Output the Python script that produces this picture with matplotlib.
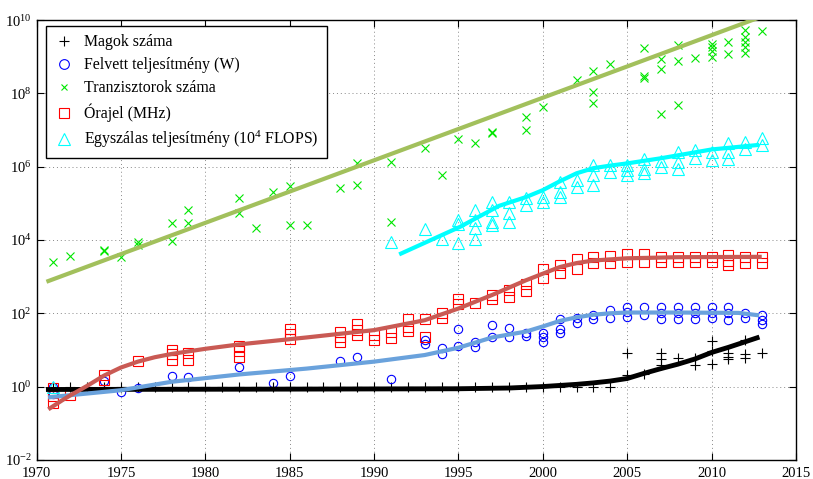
# Trends bei Mikroprozessoren 1971-2013 (log-Skala)
import numpy as np
import matplotlib.pyplot as plt
from matplotlib.lines import Line2D

plt.rcParams['font.family'] = ['Liberation Serif', 'DejaVu Serif']
plt.rcParams['mathtext.fontset'] = 'custom'
plt.rcParams['mathtext.rm'] = 'Liberation Serif'
plt.rcParams['mathtext.it'] = 'Liberation Serif:italic'

# --- Daten (Exponenten log10) ---
cores_year = [1971, 1972, 1973, 1974, 1975, 1976, 1977, 1978, 1979, 1980,
              1981, 1982, 1983, 1984, 1985, 1986, 1987, 1988, 1989, 1990,
              1991, 1992, 1993, 1994, 1995, 1996, 1997, 1998, 1999, 2000,
              2001, 2002, 2003, 2004,
              2005, 2005, 2006, 2007, 2007, 2007, 2008, 2009, 2009,
              2010, 2010, 2010, 2011, 2011, 2011, 2012, 2012, 2012, 2013]
cores_log = [0, 0, 0, 0, 0, 0, 0, 0, 0, 0,
             0, 0, 0, 0, 0, 0, 0, 0, 0, 0,
             0, 0, 0, 0, 0, 0, 0, 0, 0, 0,
             0, 0, 0, 0,
             0.91, 0.32, 0.34, 0.91, 0.74, 0.60, 0.77, 0.77, 0.60,
             1.23, 0.97, 0.61, 0.91, 0.82, 0.74, 1.28, 0.89, 0.79, 0.91]

power_year = [1971, 1971, 1974, 1975, 1976, 1978, 1979, 1982, 1984, 1985,
              1988, 1989, 1991, 1993, 1993, 1994, 1994, 1995, 1995, 1996, 1996,
              1997, 1997, 1998, 1998, 1999, 1999, 2000, 2000, 2000,
              2001, 2001, 2001, 2002, 2002, 2003, 2003, 2004, 2004,
              2005, 2005, 2005, 2006, 2006, 2007, 2007, 2007,
              2008, 2008, 2008, 2009, 2009, 2009, 2010, 2010, 2010,
              2011, 2011, 2011, 2012, 2012, 2013, 2013, 2013]
power_log = [0.0, -0.21, 0.16, -0.14, -0.05, 0.29, 0.25, 0.53, 0.10, 0.29,
             0.69, 0.81, 0.20, 1.27, 1.16, 1.04, 0.88, 1.58, 1.12, 1.22, 1.07,
             1.67, 1.34, 1.61, 1.36, 1.46, 1.37, 1.45, 1.34, 1.22,
             1.83, 1.58, 1.45, 1.86, 1.74, 1.95, 1.83, 2.09, 1.86,
             2.18, 2.04, 1.90, 2.16, 1.95, 2.16, 2.00, 1.83,
             2.16, 2.00, 1.83, 2.16, 2.00, 1.83, 2.16, 2.00, 1.86,
             2.16, 2.00, 1.81, 2.02, 1.86, 1.95, 1.81, 1.72]

trans_year = [1971, 1972, 1974, 1974, 1975, 1976, 1976, 1978, 1978, 1979, 1979,
              1982, 1982, 1983, 1984, 1985, 1985, 1986, 1988, 1989, 1989,
              1991, 1991, 1993, 1994, 1995, 1996, 1997, 1997, 1999, 1999,
              2000, 2002, 2003, 2003, 2003, 2004, 2006, 2006, 2006,
              2007, 2007, 2007, 2008, 2008, 2008, 2009,
              2010, 2010, 2010, 2010, 2011, 2011,
              2012, 2012, 2012, 2012, 2012, 2013]
trans_log = [3.40, 3.56, 3.70, 3.74, 3.54, 3.95, 3.86, 4.47, 3.98, 4.83, 4.47,
             5.14, 4.74, 4.34, 5.31, 5.47, 4.41, 4.41, 5.41, 5.50, 6.09,
             6.13, 4.50, 6.50, 5.77, 6.75, 6.64, 6.95, 6.92, 7.36, 7.00,
             7.63, 8.36, 8.62, 8.04, 7.74, 8.79, 9.24, 8.47, 8.41,
             8.93, 8.66, 7.43, 9.32, 8.88, 7.68, 8.97,
             9.36, 9.26, 9.16, 9.00, 9.41, 9.07,
             9.73, 9.54, 9.41, 9.26, 9.09, 9.70]

clock_year = [1971, 1971, 1971, 1972, 1974, 1974, 1976, 1978, 1978, 1978,
              1979, 1979, 1982, 1982, 1982, 1985, 1985, 1985,
              1988, 1988, 1988, 1989, 1989, 1989, 1990, 1990, 1991, 1991,
              1992, 1992, 1992, 1993, 1993, 1994, 1994, 1995, 1995, 1996,
              1997, 1997, 1998, 1998, 1999, 1999, 2000, 2000, 2001, 2001,
              2002, 2002, 2003, 2003, 2004, 2004, 2005, 2005, 2006, 2006,
              2007, 2007, 2008, 2008, 2009, 2009, 2010, 2010,
              2011, 2011, 2011, 2012, 2012, 2013, 2013]
clock_log = [-0.05, -0.25, -0.45, -0.23, 0.31, 0.18, 0.70, 1.01, 0.89, 0.72,
             0.92, 0.72, 1.11, 0.97, 0.80, 1.56, 1.43, 1.29,
             1.50, 1.36, 1.22, 1.72, 1.54, 1.41, 1.41, 1.27, 1.50, 1.32,
             1.83, 1.63, 1.52, 1.83, 1.36, 2.00, 1.86, 2.38, 2.25, 2.29,
             2.50, 2.38, 2.63, 2.45, 2.80, 2.62, 3.22, 2.95, 3.32, 3.09,
             3.47, 3.22, 3.54, 3.36, 3.56, 3.38, 3.61, 3.41, 3.61, 3.41,
             3.54, 3.41, 3.53, 3.41, 3.53, 3.41, 3.54, 3.39,
             3.59, 3.43, 3.32, 3.54, 3.36, 3.54, 3.38]

single_year = [1971, 1991, 1993, 1994, 1995, 1995, 1995,
               1996, 1996, 1996, 1996, 1997, 1997, 1997, 1997,
               1998, 1998, 1998, 1999, 1999, 2000, 2000,
               2001, 2001, 2001, 2002, 2002, 2003, 2003, 2003,
               2004, 2004, 2005, 2005, 2005, 2006, 2006, 2006,
               2007, 2007, 2008, 2008, 2008, 2009, 2009, 2010, 2010,
               2011, 2011, 2011, 2012, 2012, 2013, 2013]
single_log = [0.0, 3.95, 4.29, 4.02, 4.54, 4.43, 3.91,
              4.83, 4.54, 4.32, 4.04, 5.04, 4.82, 4.50, 4.41,
              5.04, 4.73, 4.50, 5.14, 4.95, 5.18, 5.04,
              5.59, 5.32, 5.18, 5.63, 5.45, 6.04, 5.77, 5.50,
              6.04, 5.86, 6.04, 5.91, 5.77, 6.20, 5.95, 5.82,
              6.15, 6.00, 6.41, 6.13, 5.95, 6.45, 6.23, 6.41, 6.18,
              6.64, 6.41, 6.20, 6.68, 6.47, 6.77, 6.59]

cores_fit_year = [1970.7, 1985, 1995, 1998, 2000, 2002, 2003, 2004, 2005, 2006, 2007, 2008, 2009, 2010, 2011, 2012.7]
cores_fit_log = [-0.08, -0.07, -0.06, -0.04, 0.0, 0.06, 0.10, 0.15, 0.22, 0.36, 0.49, 0.61, 0.75, 0.93, 1.07, 1.33]

power_fit_year = [1970.8, 1973, 1975, 1978, 1982, 1986, 1990, 1993, 1995, 1997, 1999, 2000, 2001, 2002, 2003, 2004, 2005, 2008, 2011.6, 2012.7]
power_fit_log = [-0.29, -0.19, -0.10, 0.13, 0.33, 0.49, 0.68, 0.86, 1.06, 1.34, 1.50, 1.64, 1.79, 1.89, 1.96, 2.00, 2.02, 2.02, 2.01, 1.95]

trans_fit_year = [1970.7, 2012.7]
trans_fit_log = [2.88, 10.05]

clock_fit_year = [1970.8, 1971.5, 1972, 1973, 1974, 1975, 1976, 1977, 1978, 1980, 1982, 1986, 1990, 1993, 1995, 1997, 1999, 2000, 2001, 2002, 2003, 2005, 2008, 2012.85]
clock_fit_log = [-0.59, -0.38, -0.24, 0.02, 0.30, 0.52, 0.68, 0.80, 0.89, 1.03, 1.15, 1.34, 1.54, 1.81, 2.13, 2.50, 2.90, 3.08, 3.26, 3.37, 3.44, 3.50, 3.53, 3.54]

single_fit_year = [1991.6, 1995.1, 1997.4, 1999, 2000, 2001, 2002, 2003, 2004, 2005, 2007, 2010, 2012.7]
single_fit_log = [3.63, 4.36, 4.93, 5.17, 5.36, 5.60, 5.82, 5.96, 6.03, 6.09, 6.23, 6.47, 6.59]

labels = ['Magok száma', 'Felvett teljesítmény (W)', 'Tranzisztorok száma',
          'Órajel (MHz)', 'Egyszálas teljesítmény (10$^4$ FLOPS)']

# --- Plot ---
fig = plt.figure(figsize=(8.13, 4.79), dpi=100)
ax = fig.add_axes([0.045, 0.040, 0.934, 0.918])

p = lambda v: 10.0 ** np.array(v)

ax.plot(cores_year, p(cores_log), '+', color='black', ms=7, mew=0.8, zorder=3)
ax.plot(power_year, p(power_log), 'o', mfc='none', mec='blue', ms=6, mew=0.8, zorder=3)
ax.plot(trans_year, p(trans_log), 'x', color='#00e600', ms=6, mew=0.8, zorder=3)
ax.plot(clock_year, p(clock_log), 's', mfc='none', mec='red', ms=6.5, mew=0.8, zorder=3)
ax.plot(single_year, p(single_log), '^', mfc='none', mec='cyan', ms=8, mew=0.8, zorder=3)

ax.plot(cores_fit_year, p(cores_fit_log), '-', color='black', lw=3.5, zorder=4)
ax.plot(power_fit_year, p(power_fit_log), '-', color='#6aa2dc', lw=3, zorder=4)
ax.plot(clock_fit_year, p(clock_fit_log), '-', color='#c95a54', lw=3, zorder=4)
ax.plot(trans_fit_year, p(trans_fit_log), '-', color='#a2c05c', lw=3, zorder=4)
ax.plot(single_fit_year, p(single_fit_log), '-', color='cyan', lw=3, zorder=4)

ax.set_yscale('log')
ax.set_xlim(1970, 2015)
ax.set_ylim(1e-2, 1e10)
ax.set_xticks(range(1970, 2016, 5))
ax.set_yticks([1e-2, 1e0, 1e2, 1e4, 1e6, 1e8, 1e10])
ax.set_yticklabels(['$10^{-2}$', '$10^{0}$', '$10^{2}$', '$10^{4}$',
                    '$10^{6}$', '$10^{8}$', '$10^{10}$'])
ax.yaxis.set_minor_locator(plt.NullLocator())
ax.tick_params(which='both', direction='in', top=True, right=True,
               length=5, width=0.8, labelsize=10.5)
ax.tick_params(axis='x', pad=5)
ax.grid(True, linestyle=(0, (1, 3)), color='#888888', lw=0.7)
for s in ax.spines.values():
    s.set_linewidth(1.0)

handles = [
    Line2D([], [], ls='none', marker='+', color='black', ms=7, mew=0.8),
    Line2D([], [], ls='none', marker='o', mfc='none', mec='blue', ms=7, mew=0.8),
    Line2D([], [], ls='none', marker='x', color='#00e600', ms=5, mew=0.8),
    Line2D([], [], ls='none', marker='s', mfc='none', mec='red', ms=6.5, mew=0.8),
    Line2D([], [], ls='none', marker='^', mfc='none', mec='cyan', ms=8, mew=0.8),
]
leg = ax.legend(handles, labels, loc='upper left', bbox_to_anchor=(0.013, 0.986),
                borderaxespad=0, fontsize=11.4, fancybox=False, framealpha=1,
                edgecolor='black', handlelength=1.2, handletextpad=0.7,
                labelspacing=0.45, borderpad=0.5, numpoints=1)
leg.get_frame().set_linewidth(1.0)

plt.savefig('out.png', dpi=100)
